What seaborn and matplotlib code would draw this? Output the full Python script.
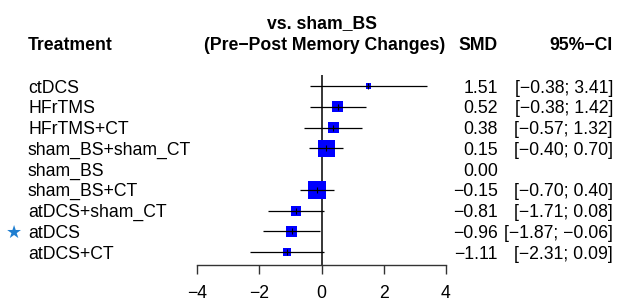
import numpy as np
import pandas as pd
import seaborn as sns
import matplotlib
matplotlib.use("Agg")
import matplotlib.pyplot as plt
import matplotlib.transforms as mtrans

treatments = ["ctDCS", "HFrTMS", "HFrTMS+CT", "sham_BS+sham_CT", "sham_BS",
              "sham_BS+CT", "atDCS+sham_CT", "atDCS", "atDCS+CT"]
smd = [1.51, 0.52, 0.38, 0.15, 0.00, -0.15, -0.81, -0.96, -1.11]
lower = [-0.38, -0.38, -0.57, -0.40, np.nan, -0.70, -1.71, -1.87, -2.31]
upper = [3.41, 1.42, 1.32, 0.70, np.nan, 0.40, 0.08, -0.06, 0.09]
# box weight (area of the square)
weight = [25, 121, 110, 290, np.nan, 324, 100, 121, 64]
x_ticks = [-4, -2, 0, 2, 4]
starred = "atDCS"

df = pd.DataFrame({"treatment": treatments, "smd": smd, "lower": lower,
                   "upper": upper, "weight": weight})
df["row"] = np.arange(len(df))

FS = 12.7

sns.set_style("white")
plt.rcParams["font.family"] = ["Liberation Sans", "DejaVu Sans"]
plt.rcParams["font.size"] = FS
plt.rcParams["text.color"] = "black"
plt.rcParams["xtick.color"] = "#333333"
plt.rcParams["xtick.labelcolor"] = "black"

fig = plt.figure(figsize=(6.33, 3.04), dpi=100)
ax = fig.add_axes([197.3 / 633, 1 - 264.5 / 304, 248.4 / 633, 189.5 / 304])

ax.axvline(0, color="black", lw=1.1, zorder=1)

boxes = df.dropna(subset=["weight"])
sns.scatterplot(data=boxes, x="smd", y="row", size="weight", sizes=(13, 168),
                marker="s", color="#0000ff", linewidth=0, legend=False,
                ax=ax, zorder=2, clip_on=False)

ci = df.dropna(subset=["lower"])
ax.hlines(ci["row"], ci["lower"], ci["upper"], color="black", lw=0.9,
          zorder=3, clip_on=False)
ax.scatter(boxes["smd"], boxes["row"], marker="|", s=20, color="black",
           linewidths=0.8, zorder=4, clip_on=False)

ax.set_xlim(-4, 4)
ax.set_ylim(8.6, -0.53)
ax.set_xlabel("")
ax.set_ylabel("")
ax.set_xticks(x_ticks)
ax.set_xticklabels([str(t).replace("-", "\u2212") for t in x_ticks])
ax.set_yticks([])
for side in ["top", "left", "right"]:
    ax.spines[side].set_visible(False)
ax.spines["bottom"].set_color("#333333")
ax.spines["bottom"].set_linewidth(1.0)
ax.tick_params(axis="x", bottom=True, direction="out", length=6.5, width=1.0,
               color="#333333", pad=8.5, labelsize=FS)
ax.patch.set_alpha(0)

# text columns
trans = mtrans.blended_transform_factory(fig.transFigure, ax.transData)
trans = trans + mtrans.ScaledTranslation(0, -6.5 / 100, fig.dpi_scale_trans)


def fmt(v):
    return f"{v:.2f}".replace("-", "\u2212")


for _, r in df.iterrows():
    y = r["row"]
    ax.text(28 / 633, y, r["treatment"], transform=trans, ha="left",
            va="baseline", fontsize=FS)
    ax.text(498 / 633, y, fmt(r["smd"]), transform=trans, ha="right",
            va="baseline", fontsize=FS)
    if not np.isnan(r["lower"]):
        ax.text(613 / 633, y, f"[{fmt(r['lower'])}; {fmt(r['upper'])}]",
                transform=trans, ha="right", va="baseline", fontsize=FS)
    if r["treatment"] == starred:
        ax.text(14 / 633, y, "\u2605", transform=trans, ha="center",
                va="baseline", fontsize=13, color="#1f7ed0",
                family=["DejaVu Sans"])

# headers
hdr = dict(transform=fig.transFigure, va="baseline", fontsize=FS,
           fontweight="bold")
fig.text(321.7 / 633, 1 - 28 / 304, "vs. sham_BS", ha="center", **hdr)
fig.text(325 / 633, 1 - 50 / 304, "(Pre\u2212Post Memory Changes)",
         ha="center", **hdr)
fig.text(28 / 633, 1 - 50 / 304, "Treatment", ha="left", **hdr)
fig.text(498 / 633, 1 - 50 / 304, "SMD", ha="right", **hdr)
fig.text(613 / 633, 1 - 50 / 304, "95%\u2212CI", ha="right", **hdr)

fig.savefig("out.png", dpi=100)
